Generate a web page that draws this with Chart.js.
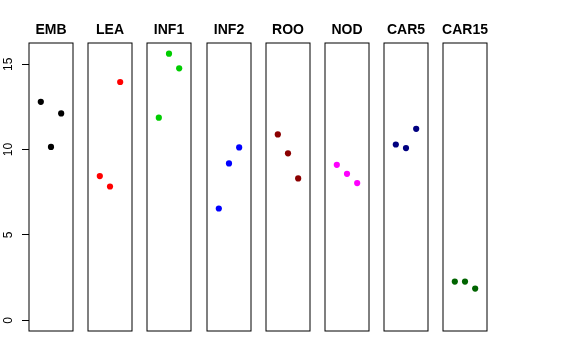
<!DOCTYPE html>
<html>
<head>
<meta charset="utf-8">
<script src="https://cdn.jsdelivr.net/npm/chart.js@4.4.1/dist/chart.umd.min.js"></script>
<style>
html,body{margin:0;padding:0;background:#fff;}
#wrap{position:relative;width:576px;height:360px;overflow:hidden;background:#fff;}
#wrap div{position:absolute;top:0;height:360px;}
</style>
</head>
<body>
<div id="wrap"></div>
<script>
// ---- data ----
const categories = ["EMB","LEA","INF1","INF2","ROO","NOD","CAR5","CAR15"];
const valuesEMB   = [12.80, 10.16, 12.12];
const valuesLEA   = [8.45, 7.84, 13.96];
const valuesINF1  = [11.87, 15.62, 14.76];
const valuesINF2  = [6.55, 9.19, 10.13];
const valuesROO   = [10.89, 9.78, 8.31];
const valuesNOD   = [9.11, 8.58, 8.04];
const valuesCAR5  = [10.30, 10.09, 11.22];
const valuesCAR15 = [2.27, 2.27, 1.86];
const yTickLabels = [0, 5, 10, 15];

const seriesValues = [valuesEMB, valuesLEA, valuesINF1, valuesINF2, valuesROO, valuesNOD, valuesCAR5, valuesCAR15];
const seriesColors = ["#000000","#FF0000","#00CD00","#0000FF","#8B0000","#FF00FF","#000080","#006400"];

// ---- layout ----
const AXIS_W = 29;
const PANEL_W = 44;
const RIGHT_PAD = 16;
const PITCH = 59.2;
const Y_MIN = -0.625, Y_MAX = 16.245;
const FONT = '"Liberation Sans", Arial, Helvetica, sans-serif';

const boxPlugin = {
  id: 'box',
  afterDatasetsDraw(chart) {
    const a = chart.chartArea, ctx = chart.ctx;
    ctx.save();
    ctx.strokeStyle = '#000';
    ctx.lineWidth = 1;
    ctx.strokeRect(a.left, a.top, a.right - a.left, a.bottom - a.top);
    ctx.restore();
  }
};
const panelTitlePlugin = {
  id: 'panelTitle',
  afterDraw(chart, args, opts) {
    const a = chart.chartArea, ctx = chart.ctx;
    ctx.save();
    ctx.fillStyle = '#000';
    ctx.font = 'bold 14px ' + FONT;
    ctx.textAlign = 'center';
    ctx.textBaseline = 'alphabetic';
    ctx.fillText(opts.text, (a.left + a.right) / 2, 34);
    ctx.restore();
  }
};
const yLabelPlugin = {
  id: 'ylabels',
  afterDraw(chart, args, opts) {
    if (!opts.show) return;
    const s = chart.scales.y, ctx = chart.ctx;
    ctx.save();
    ctx.fillStyle = '#000';
    ctx.font = '12px ' + FONT;
    ctx.textAlign = 'center';
    ctx.textBaseline = 'alphabetic';
    yTickLabels.forEach(v => {
      const y = s.getPixelForValue(v);
      ctx.save();
      ctx.translate(11.7, y);
      ctx.rotate(-Math.PI / 2);
      ctx.fillText(String(v), 0, 0);
      ctx.restore();
    });
    ctx.restore();
  }
};

const wrap = document.getElementById('wrap');
categories.forEach((name, i) => {
  const left = Math.round(AXIS_W + i * PITCH) - AXIS_W;
  const W = AXIS_W + PANEL_W + RIGHT_PAD;
  const div = document.createElement('div');
  div.style.left = left + 'px';
  div.style.width = W + 'px';
  const cv = document.createElement('canvas');
  cv.width = W;
  cv.height = 360;
  cv.style.width = W + 'px';
  cv.style.height = '360px';
  div.appendChild(cv);
  wrap.appendChild(div);
  const first = i === 0;
  new Chart(cv, {
    type: 'scatter',
    data: {
      datasets: [{
        data: seriesValues[i].map((v, j) => ({x: j + 1, y: v})),
        backgroundColor: seriesColors[i],
        borderWidth: 0,
        pointRadius: 3.1,
        pointHoverRadius: 3.1
      }]
    },
    options: {
      responsive: false,
      maintainAspectRatio: false,
      animation: false,
      devicePixelRatio: 1,
      events: [],
      layout: {autoPadding: false, padding: {left: 0, right: RIGHT_PAD, top: 43, bottom: 29}},
      plugins: {
        legend: {display: false},
        tooltip: {enabled: false},
        title: {display: false},
        panelTitle: {text: name},
        ylabels: {show: first}
      },
      scales: {
        x: {type: 'linear', min: -0.16, max: 4.16, display: false},
        y: {
          type: 'linear', min: Y_MIN, max: Y_MAX,
          afterBuildTicks: (sc) => { sc.ticks = yTickLabels.map(v => ({value: v})); },
          afterFit: (sc) => { sc.width = AXIS_W; },
          ticks: {display: false},
          border: {display: false},
          grid: {
            display: first,
            drawOnChartArea: false,
            drawTicks: true,
            tickLength: 7,
            color: '#000',
            lineWidth: 1
          }
        }
      }
    },
    plugins: [boxPlugin, panelTitlePlugin, yLabelPlugin]
  });
});
</script>
</body>
</html>
